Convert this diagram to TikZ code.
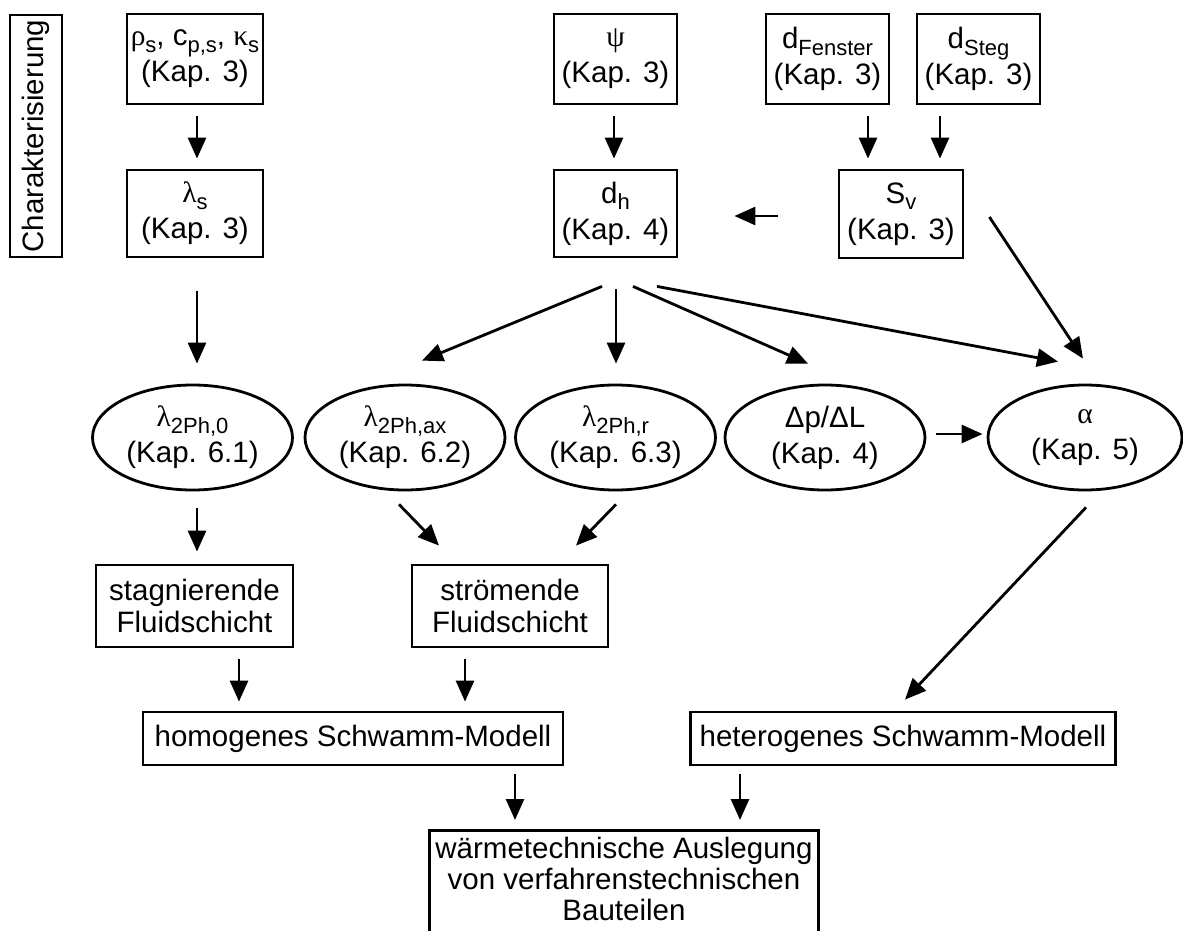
\documentclass[tikz,border=0pt]{standalone}
\usepackage{fontspec}
\setmainfont{Liberation Sans}
\newfontfamily\grk{Liberation Serif}
\usetikzlibrary{arrows.meta,shapes.geometric,calc}
\newcommand\sub[1]{\raisebox{-0.22em}{\fontsize{22}{22}\selectfont #1}}
\newcommand\gr[1]{{\grk #1}}
\begin{document}
\begin{tikzpicture}[x=1pt,y=-1pt,
  every node/.style={font=\fontsize{29.5}{36}\selectfont, align=center, inner sep=0pt},
  box/.style={draw, line width=2.8pt, rectangle},
  ell/.style={draw, line width=2.8pt, ellipse, minimum width=200pt, minimum height=105pt},
  arr/.style={line width=2.8pt, -{Triangle[length=21pt,width=18pt]}}]
\useasboundingbox (0,0) rectangle (1183,931);

% row 1 and 2
\node[box, rotate=90, minimum width=242pt, minimum height=52pt] (char) at (36,136) {Charakterisierung};
\node[box, minimum width=136pt, minimum height=90pt] (rho) at (195,59) {\gr{ρ}\sub{s}, c\sub{p,s}, \gr{κ}\sub{s}\\(Kap. 3)};
\node[box, minimum width=136pt, minimum height=87pt] (lams) at (195,213.5) {\gr{λ}\sub{s}\\(Kap. 3)};
\node[box, minimum width=123pt, minimum height=90pt] (psi) at (615.5,59) {\gr{ψ}\\(Kap. 3)};
\node[box, minimum width=123pt, minimum height=87pt] (dh) at (615.5,213.5) {d\sub{h}\\(Kap. 4)};
\node[box, minimum width=123pt, minimum height=90pt] (dF) at (827.5,59) {d\sub{Fenster}\\(Kap. 3)};
\node[box, minimum width=123pt, minimum height=90pt] (dS) at (978.5,59) {d\sub{Steg}\\(Kap. 3)};
\node[box, minimum width=124pt, minimum height=88pt] (Sv) at (901,214) {S\sub{v}\\(Kap. 3)};

% ellipses
\node[ell] (l0) at (192.5,437.5) {\gr{λ}\sub{2Ph,0}\\(Kap. 6.1)};
\node[ell] (lax) at (405,437.5) {\gr{λ}\sub{2Ph,ax}\\(Kap. 6.2)};
\node[ell] (lr) at (615.5,437.5) {\gr{λ}\sub{2Ph,r}\\(Kap. 6.3)};
\node[ell] (dp) at (825,437.5) {Δp/ΔL\\(Kap. 4)};
\node[ell, minimum width=194pt] (al) at (1085,437.5) {\gr{α}\\(Kap. 5)};

% lower boxes
\node[box, minimum width=197pt, minimum height=82pt, font=\fontsize{29.5}{32}\selectfont] (stag) at (194.5,606) {stagnierende\\Fluidschicht};
\node[box, minimum width=196pt, minimum height=82pt, font=\fontsize{29.5}{32}\selectfont] (strom) at (510,606) {strömende\\Fluidschicht};
\node[box, minimum width=420pt, minimum height=53pt] (homo) at (353,738.5) {homogenes Schwamm-Modell};
\node[box, minimum width=425pt, minimum height=53pt] (het) at (903,738.5) {heterogenes Schwamm-Modell};
\node[box, anchor=north, inner xsep=6pt, inner ysep=7pt, minimum width=388pt, font=\fontsize{29.5}{31}\selectfont] (bt) at (624,829)
  {wärmetechnische Auslegung\\von verfahrenstechnischen\\Bauteilen\strut};

% connectors
\draw[arr] ($(rho.south)+(2,11)$) -- ($(lams.north)+(2,-10)$);
\draw[arr] ($(psi.south)+(-1.5,11)$) -- ($(dh.north)+(-1.5,-10)$);
\draw[arr] ($(dF.south)+(40.5,11)$) -- ($(Sv.north)+(-33,-10)$);
\draw[arr] ($(dS.south)+(-38.5,11)$) -- ($(Sv.north)+(39,-10)$);
\draw[arr] ($(Sv.west)+(-60,2)$) -- ($(dh.east)+(56,2.5)$);
\draw[arr] ($(lams.south)+(2,33)$) -- ($(l0.north)+(4.5,-20)$);
\draw[arr] ($(dh.south)+(-13.5,28)$) -- ($(lax.north)+(17,-23)$);
\draw[arr] ($(dh.south)+(0.5,31)$) -- ($(lr.north)+(0.5,-20)$);
\draw[arr] ($(dh.south)+(17.5,28)$) -- ($(dp.north)+(-17,-20)$);
\draw[arr] ($(dh.south)+(41.5,28)$) -- ($(al.north)+(-27,-22)$);
\draw[arr] ($(Sv.east)+(25,3)$) -- ($(al.north)+(-2,-25)$);
\draw[arr] ($(dp.east)+(10,-3.5)$) -- ($(al.west)+(-4,-3.5)$);
\draw[arr] ($(l0.south)+(4.5,17)$) -- ($(stag.north)+(2.5,-12)$);
\draw[arr] ($(lax.south)+(-6,13)$) -- ($(strom.north)+(-71,-18)$);
\draw[arr] ($(lr.south)+(0.5,13)$) -- ($(strom.north)+(66,-18)$);
\draw[arr] ($(stag.south)+(44.5,11)$) -- ($(homo.north)+(-114,-9)$);
\draw[arr] ($(strom.south)+(-45,11)$) -- ($(homo.north)+(112,-9)$);
\draw[arr] ($(al.south)+(1,16)$) -- ($(het.north)+(2,-11)$);
\draw[arr] ($(homo.south)+(162,8)$) -- ($(bt.north)+(-109,-9)$);
\draw[arr] ($(het.south)+(-163,8)$) -- ($(bt.north)+(116,-9)$);
\end{tikzpicture}
\end{document}
